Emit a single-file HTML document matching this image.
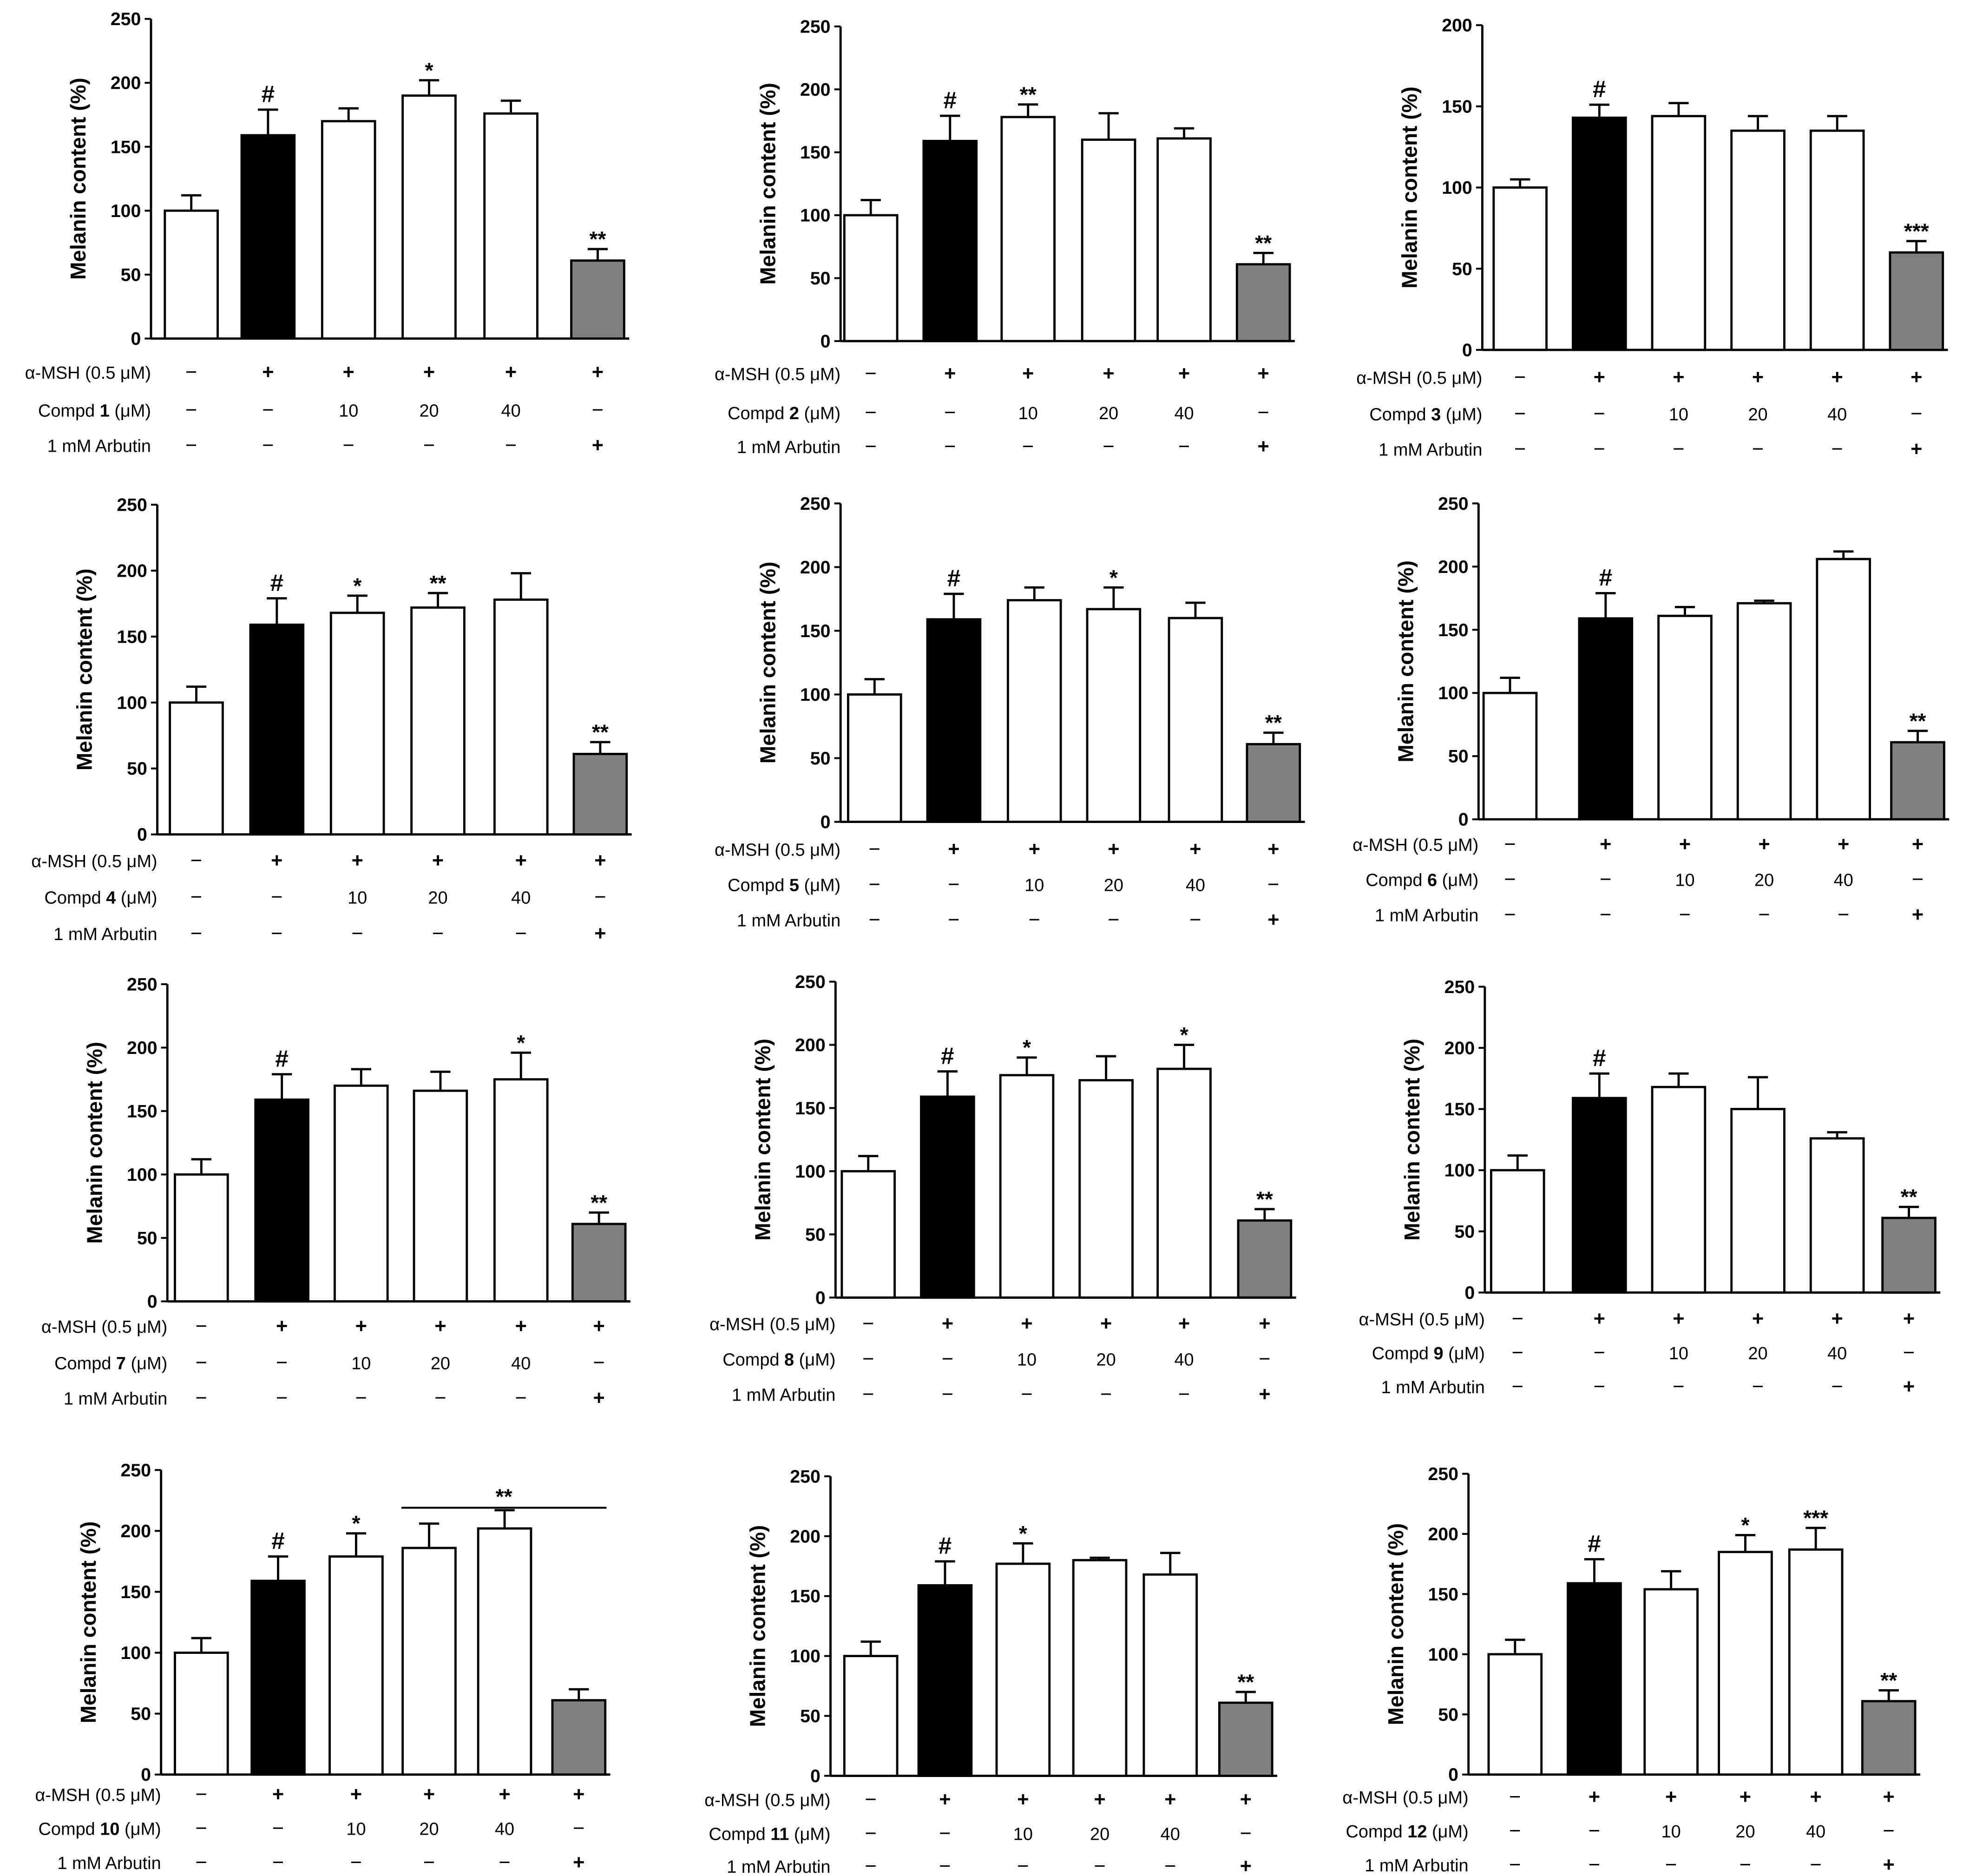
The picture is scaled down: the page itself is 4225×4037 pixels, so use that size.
<!DOCTYPE html>
<html><head><meta charset="utf-8"><style>
html,body{margin:0;padding:0;background:#fff;}
svg{display:block;font-family:"Liberation Sans",sans-serif;}
</style></head><body>
<svg id="fig" width="4225" height="4037" viewBox="0 0 1560 1490.6" preserveAspectRatio="none" xmlns="http://www.w3.org/2000/svg"></svg>
<script>
// Data
const compounds = [1,2,3,4,5,6,7,8,9,10,11,12];
const yMaxes = [250,250,200,250,250,250,250,250,250,250,250,250];
const values = [
 [100,159,170,190,176,61],[100,159,178,160,161,61],[100,143,144,135,135,60],
 [100,159,168,172,178,61],[100,159,174,167,160,61],[100,159,161,171,206,61],
 [100,159,170,166,175,61],[100,159,176,172,181,61],[100,159,168,150,126,61],
 [100,159,179,186,202,61],[100,159,177,180,168,61],[100,159,154,185,187,61]];
const errors = [
 [12,20,10,12,10,9],[12,20,10,21,8,9],[5,8,8,9,9,7],
 [12,20,13,11,20,9],[12,20,10,17,12,9],[12,20,7,2,6,9],
 [12,20,13,15,21,9],[12,20,14,19,19,9],[12,20,11,26,5,9],
 [12,20,19,20,15,9],[12,20,17,2,18,9],[12,20,15,14,18,9]];
const sigs = [
 ['','#','','*','','**'],['','#','**','','','**'],['','#','','','','***'],
 ['','#','*','**','','**'],['','#','','*','','**'],['','#','','','','**'],
 ['','#','','','*','**'],['','#','*','','*','**'],['','#','','','','**'],
 ['','#','*','','',''],['','#','*','','','**'],['','#','','*','***','**']];
const row1 = ['−','+','+','+','+','+'];
const row2 = ['−','−','10','20','40','−'];
const row3 = ['−','−','−','−','−','+'];
// Layout
const L = [
 {ax:120,y0:269,yt:15,bx:[152,213,277,341,406,475],rows:[296,326,354]},
 {ax:668,y0:271,yt:21,bx:[692,755,817,881,941,1004],rows:[297,328,355]},
 {ax:1178,y0:278,yt:20,bx:[1208,1271,1334,1397,1460,1523],rows:[300,329,357]},
 {ax:125,y0:663,yt:401,bx:[156,220,284,348,414,477],rows:[684,713,742]},
 {ax:668,y0:653,yt:400,bx:[695,758,822,885,950,1012],rows:[675,703,731]},
 {ax:1175,y0:651,yt:400,bx:[1200,1276,1339,1402,1465,1524],rows:[671,699,727]},
 {ax:133,y0:1034,yt:782,bx:[160,224,287,350,414,476],rows:[1054,1083,1111]},
 {ax:664,y0:1031,yt:780,bx:[690,753,816,879,941,1005],rows:[1052,1080,1108]},
 {ax:1180,y0:1027,yt:784,bx:[1206,1271,1334,1397,1460,1517],rows:[1048,1075,1102]},
 {ax:128,y0:1410,yt:1168,bx:[160,221,283,341,401,460],rows:[1426,1453,1480]},
 {ax:660,y0:1411,yt:1173,bx:[692,751,813,874,930,990],rows:[1430,1457,1483]},
 {ax:1167,y0:1410,yt:1171,bx:[1204,1267,1328,1387,1443,1501],rows:[1428,1455,1482]}];
const NS='http://www.w3.org/2000/svg';
const svg=document.getElementById('fig');
function mk(tag,attrs,parent,text){const e=document.createElementNS(NS,tag);for(const k in attrs)e.setAttribute(k,attrs[k]);if(text!==undefined)e.textContent=text;(parent||svg).appendChild(e);return e;}
const BW=42;
compounds.forEach((c,i)=>{
 const l=L[i], ym=yMaxes[i];
 const y=v=>l.y0-(v/ym)*(l.y0-l.yt);
 const g=mk('g',{});
 
 
 const right=l.bx[5]+BW/2+4;
 const xa=mk('line',{x1:l.ax,x2:right,y1:l.y0,y2:l.y0,stroke:'#000','stroke-width':1.8},g);
 
 
 const ya=mk('line',{x1:l.ax,x2:l.ax,y1:l.yt,y2:l.y0,stroke:'#000','stroke-width':1.8},g);
 
 
 for(let t=0;t<=ym;t+=50){
  mk('line',{x1:l.ax-5,x2:l.ax,y1:y(t),y2:y(t),stroke:'#000','stroke-width':1.5},g);
  const tl=mk('text',{x:l.ax-8,y:y(t)+5,'text-anchor':'end','font-size':14.5,'font-weight':'bold'},g,t);
  
  
 }
 const cy=(l.y0+l.yt)/2;
 const tx=l.ax-52;
 const yt=mk('text',{x:tx,y:cy,'text-anchor':'middle','font-size':17,'font-weight':'bold',transform:`rotate(-90 ${tx} ${cy})`},g,'Melanin content (%)');
 
 
 values[i].forEach((v,j)=>{
  const cx=l.bx[j];
  const fill=j===1?'#000':(j===5?'#808080':'#fff');
  const b=mk('rect',{x:cx-BW/2,y:y(v),width:BW,height:l.y0-y(v),fill:fill,stroke:'#000','stroke-width':1.8},g);
  
  
  const e=errors[i][j], top=y(v+e);
  const eb=mk('path',{d:`M${cx} ${y(v)}V${top}M${cx-8} ${top}H${cx+8}`,stroke:'#000','stroke-width':1.8,fill:'none'},g);
  
  
  if(sigs[i][j]){
   const s=mk('text',{x:cx,y:top-(sigs[i][j]==='#'?6:2),'text-anchor':'middle','font-size':sigs[i][j]==='#'?19:17,'font-weight':'bold'},g,sigs[i][j]);
   
   
  }
 });
 if(i===9){
  const ly=y(219);
  const br=mk('line',{x1:l.bx[3]-22,x2:l.bx[5]+22,y1:ly,y2:ly,stroke:'#000','stroke-width':1.5},g);
  
  
  const bs=mk('text',{x:(l.bx[3]+l.bx[5])/2,y:ly-3,'text-anchor':'middle','font-size':17,'font-weight':'bold'},g,'**');
  
  
 }
 const labs=[['α-MSH (0.5 μM)',null],['Compd ',c],['1 mM Arbutin',null]];
 const rows=[row1,row2,row3];
 labs.forEach((lb,r)=>{
  const ry=l.rows[r];
  const t=mk('text',{x:l.ax,y:ry+5,'text-anchor':'end','font-size':14},g);
  
  
  if(lb[1]!==null){mk('tspan',{},t,lb[0]);mk('tspan',{'font-weight':'bold'},t,lb[1]);mk('tspan',{},t,' (μM)');}
  else t.textContent=lb[0];
  rows[r].forEach((sym,j)=>{
   const cx=l.bx[j];
   const m=mk('text',{x:cx,y:ry+5,'text-anchor':'middle','font-size':sym==='−'||sym==='+'?16:14,'font-weight':sym==='+'?'bold':'normal'},g,sym);
   
   
  });
 });
});
</script>
</body></html>
